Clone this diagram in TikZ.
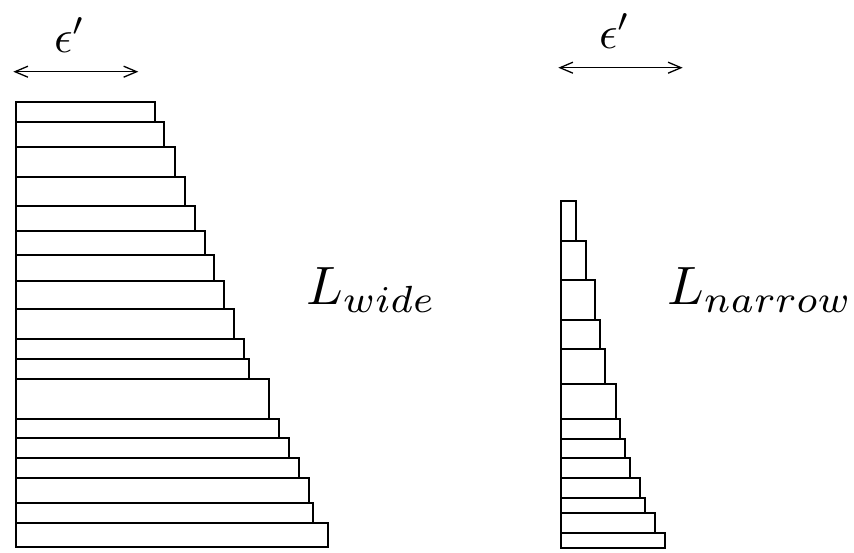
\documentclass[tikz,border=0pt]{standalone}
\usepackage{graphicx}
\usetikzlibrary{arrows.meta}
\begin{document}
\begin{tikzpicture}[x=1pt,y=-1pt,
  bar/.style={draw=black,line width=1.7pt,fill=white},
  span/.style={{Straight Barb[length=13pt,width=11pt,line width=1.3pt]}-{Straight Barb[length=13pt,width=11pt,line width=1.3pt]},line width=1.3pt},
  lab/.style={inner sep=0pt}]
\useasboundingbox (0,0) rectangle (854,552);
% left stack
\foreach \ya/\yb/\xr in {102/122/154.7,122/146.7/164.3,146.7/176.7/174.7,176.7/206/185,206/231.3/195,231.3/255.3/204.7,255.3/280.7/214.3,280.7/309.3/224,309.3/339.3/234.3,339.3/359.3/244.3,359.3/379/249,379/418.7/268.7,418.7/438/278.7,438/458.3/288.7,458.3/478.3/298.7,478.3/502.7/308.7,502.7/522.7/313.3,522.7/547.3/328.3}
  \draw[bar] (16,\ya) rectangle (\xr,\yb);
% right stack
\foreach \ya/\yb/\xr in {201/240.7/576,240.7/280/585.7,280/320/595.3,320/349.3/600.3,349.3/384/605.3,384/419/615.7,419/438.7/620.3,438.7/458.3/625.3,458.3/478/630,478/497.7/640,497.7/513.3/645.3,513.3/532.7/655.3,532.7/547.7/664.7}
  \draw[bar] (560.7,\ya) rectangle (\xr,\yb);
% arrows
\coordinate (l1) at (13.3,71.7);
\coordinate (l2) at (138.3,71.7);
\coordinate (r1) at (558.3,67.7);
\coordinate (r2) at (682.7,67.7);
\draw[span] (l1) -- (l2);
\draw[span] (r1) -- (r2);
\node[lab,anchor=base] (epsl) at (70,52) {\scalebox{4.6}{$\epsilon'$}};
\node[lab,anchor=base] (epsr) at (615,48) {\scalebox{4.6}{$\epsilon'$}};
\node[lab,anchor=base west] (lw) at (306,304) {\scalebox{5.4}{$L_{wide}$}};
\node[lab,anchor=base west] (ln) at (667,304) {\scalebox{5.4}{$L_{narrow}$}};
\end{tikzpicture}
\end{document}
